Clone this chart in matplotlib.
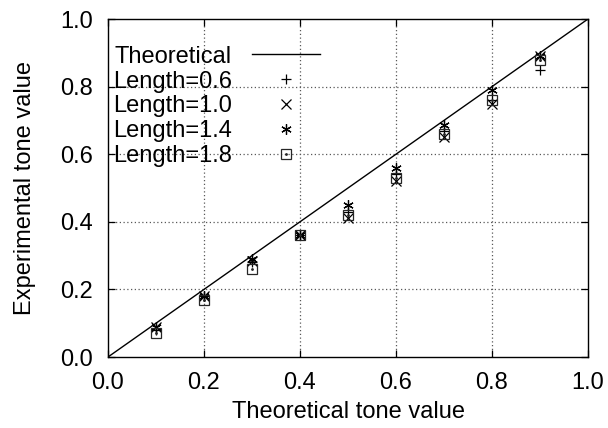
import matplotlib
matplotlib.use("Agg")
import matplotlib.pyplot as plt

plt.rcParams['font.family'] = ['Liberation Sans', 'DejaVu Sans']

theory_x = [0.0, 1.0]
theory_y = [0.0, 1.0]
x = [0.1, 0.2, 0.3, 0.4, 0.5, 0.6, 0.7, 0.8, 0.9]
L06 = [0.08, 0.18, 0.28, 0.36, 0.43, 0.54, 0.67, 0.76, 0.85]
L10 = [0.09, 0.18, 0.285, 0.36, 0.41, 0.52, 0.65, 0.75, 0.89]
L14 = [0.09, 0.18, 0.29, 0.36, 0.45, 0.56, 0.685, 0.79, 0.89]
L18 = [0.07, 0.17, 0.26, 0.36, 0.42, 0.53, 0.66, 0.76, 0.88]
ticks = [0.0, 0.2, 0.4, 0.6, 0.8, 1.0]
tick_labels = ["0.0", "0.2", "0.4", "0.6", "0.8", "1.0"]
grid_vals = [0.2, 0.4, 0.6, 0.8]

fig = plt.figure(figsize=(6.08, 4.28), dpi=100)
ax = fig.add_axes([108/608, 1-357/428, 480/608, 338/428])

for g in grid_vals:
    ax.axvline(g, color='0.35', lw=0.9, ls=(0, (1, 2)), zorder=0)
    ax.axhline(g, color='0.35', lw=0.9, ls=(0, (1, 2)), zorder=0)

hl, = ax.plot(theory_x, theory_y, color='black', lw=1.0, label='Theoretical')
ms = 7.5
h1, = ax.plot(x, L06, ls='none', marker='+', ms=ms, mew=0.9, color='black')
h2, = ax.plot(x, L10, ls='none', marker='x', ms=ms, mew=0.9, color='black')
h3, = ax.plot(x, L14, ls='none', marker=(6, 2, 0), ms=ms, mew=0.9, color='black')
h4, = ax.plot(x, L18, ls='none', marker='s', ms=ms, mew=0.9, mfc='none', mec='0.15')
h4d, = ax.plot(x, L18, ls='none', marker='.', ms=2.0, color='0.15')

ax.set_xlim(0, 1)
ax.set_ylim(0, 1)
ax.set_xticks(ticks)
ax.set_xticklabels(tick_labels)
ax.set_yticks(ticks)
ax.set_yticklabels(tick_labels)
ax.tick_params(direction='in', length=5, width=0.9, labelsize=17, pad=11,
               top=True, right=True)
for s in ax.spines.values():
    s.set_linewidth(1.0)

ax.set_xlabel('Theoretical tone value', fontsize=17, labelpad=5)
ax.set_ylabel('Experimental tone value', fontsize=17, labelpad=17)

leg = ax.legend([hl, h1, h2, h3, (h4, h4d)],
                ['Theoretical', 'Length=0.6', 'Length=1.0', 'Length=1.4', 'Length=1.8'],
                loc='upper left', bbox_to_anchor=(0.0, 0.935), frameon=False,
                fontsize=17, markerfirst=False, handlelength=2.9,
                handletextpad=0.85, labelspacing=0.12, borderpad=0.0,
                borderaxespad=0.2)

fig.savefig('out.png', dpi=100)
